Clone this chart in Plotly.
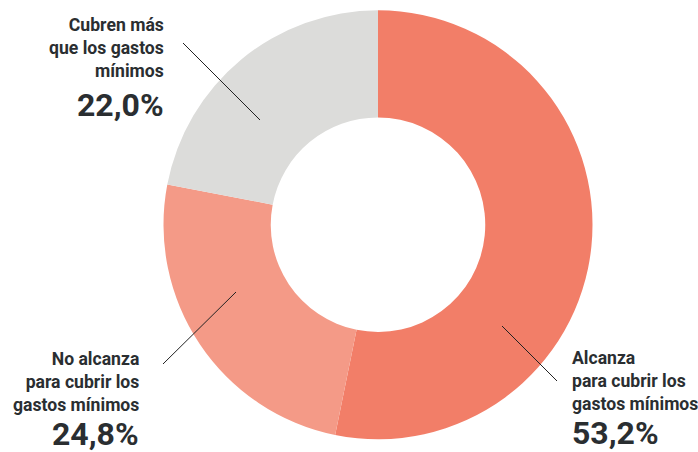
import plotly.graph_objects as go

W, H = 698, 452

categories = ["Alcanza para cubrir los gastos mínimos",
              "No alcanza para cubrir los gastos mínimos",
              "Cubren más que los gastos mínimos"]
values = [53.2, 24.8, 22.0]
label_texts = ["Alcanza<br>para cubrir los<br>gastos mínimos",
               "No alcanza<br>para cubrir los<br>gastos mínimos",
               "Cubren más<br>que los gastos<br>mínimos"]
pct_texts = ["53,2%", "24,8%", "22,0%"]
colors = ["#F27E68", "#F49A87", "#DCDCDA"]

TXT = "#2A2E31"
FONT = "Roboto"

fig = go.Figure(go.Pie(
    labels=categories, values=values, hole=0.5, sort=False,
    direction="clockwise", rotation=0,
    marker=dict(colors=colors, line=dict(width=0)),
    textinfo="none", hoverinfo="label+percent", showlegend=False,
    domain=dict(x=[163.5 / W, 592.5 / W], y=[1 - 439.5 / H, 1 - 10 / H]),
))

def px(x): return x / W
def py(y): return 1 - y / H

annotations = []
placements = [
    (570, "left", 381, 433),
    (141, "right", 382, 434),
    (166, "right", 48, 105),
]
for (x, anc, ty, pyc), t, p in zip(placements, label_texts, pct_texts):
    annotations.append(dict(x=px(x), y=py(ty), xref="paper", yref="paper",
                            text=t, showarrow=False, xanchor=anc, yanchor="middle",
                            align=anc, font=dict(family=FONT, size=17.6, color=TXT, weight=700)))
    annotations.append(dict(x=px(x), y=py(pyc), xref="paper", yref="paper",
                            text=p, showarrow=False, xanchor=anc, yanchor="middle",
                            align=anc, font=dict(family=FONT, size=32, color=TXT, weight=700)))

leader_lines = [((502, 326), (557, 381)), ((236, 292), (163, 364)), ((260, 120), (183, 43))]
shapes = []
for (x0, y0), (x1, y1) in leader_lines:
    shapes.append(dict(type="line", xref="paper", yref="paper",
                       x0=px(x0), y0=py(y0), x1=px(x1), y1=py(y1),
                       line=dict(color="#222222", width=1)))

fig.update_layout(width=W, height=H, margin=dict(l=0, r=0, t=0, b=0),
                  paper_bgcolor="white", plot_bgcolor="white",
                  annotations=annotations, shapes=shapes)
fig.write_html("out.html", config={"displayModeBar": False},
               post_script="document.body.style.margin='0';document.body.style.overflow='hidden';")
